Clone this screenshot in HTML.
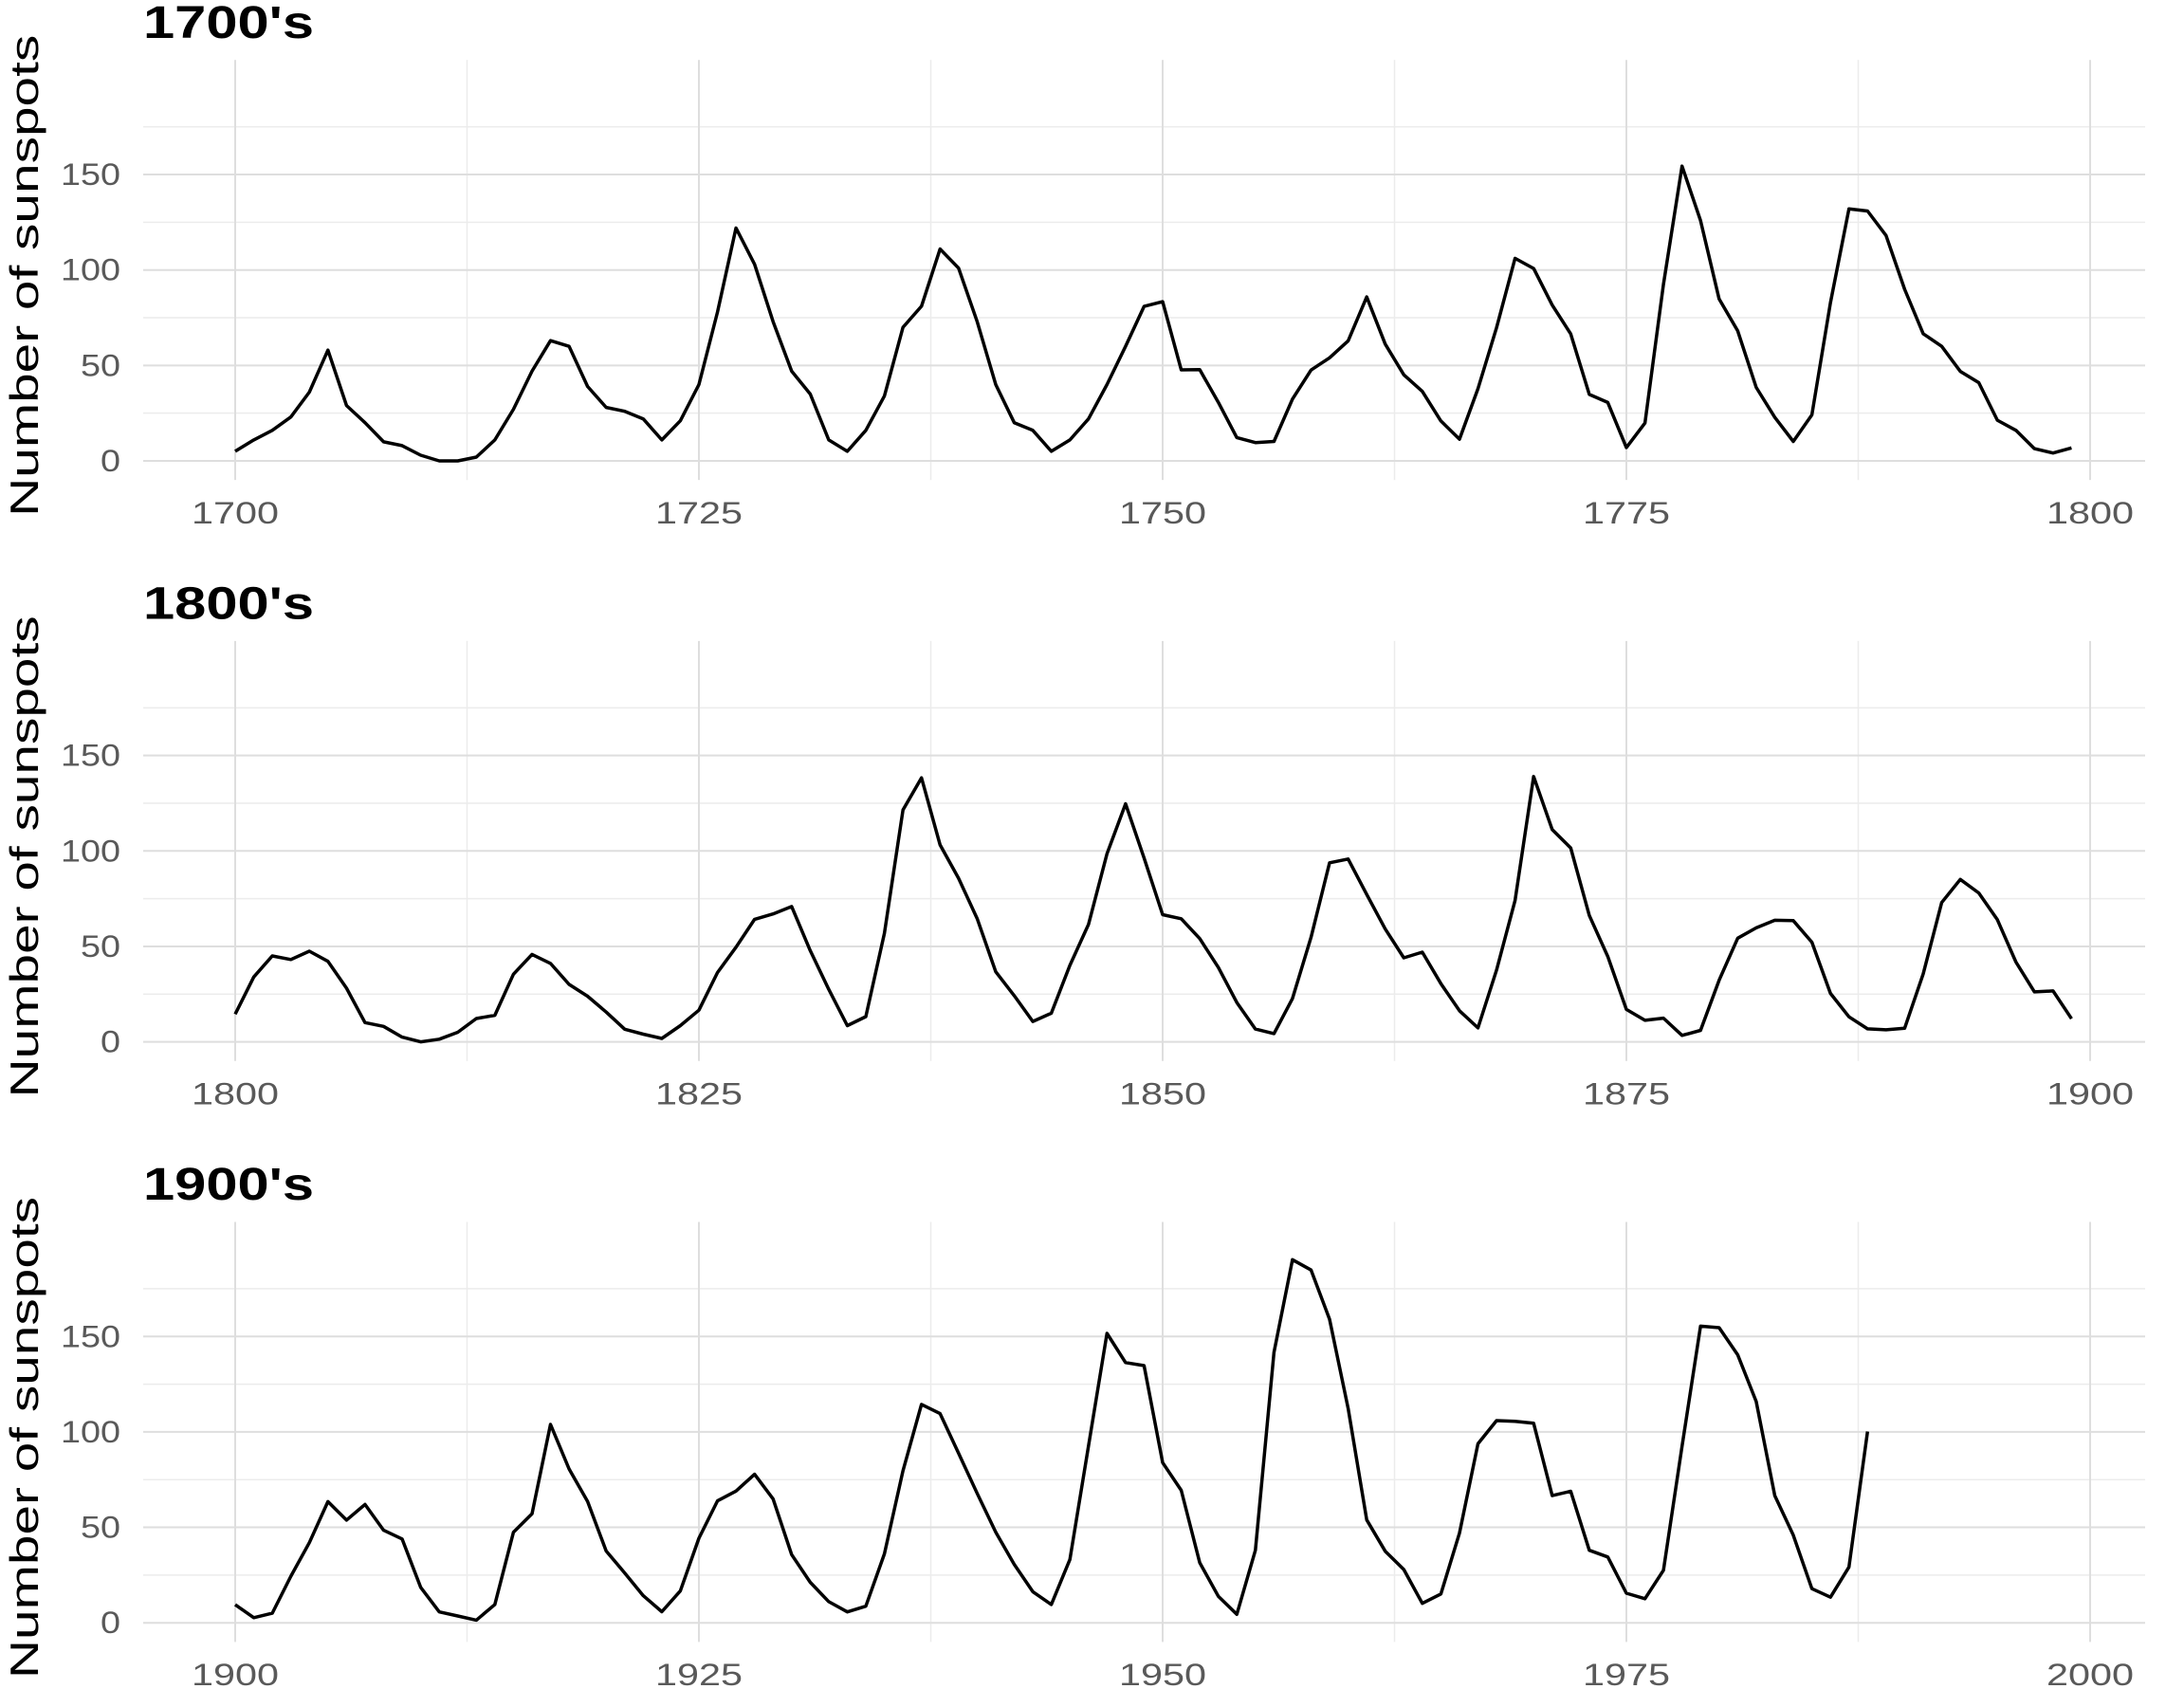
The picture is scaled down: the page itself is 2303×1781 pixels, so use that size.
<!DOCTYPE html>
<html><head><meta charset="utf-8"><style>
html,body{margin:0;padding:0;background:#fff;}
svg{display:block;font-family:"Liberation Sans",sans-serif;}
</style></head><body>
<svg id="chart" width="2303" height="1781" viewBox="0 0 2303 1781" xmlns="http://www.w3.org/2000/svg"></svg>
<script>
const decades = ["1700's","1800's","1900's"];
const startYears = [1700,1800,1900];
const xTicks = [0,25,50,75,100];
const yTicks = [0,50,100,150];
const s1700 = [5,11,16,23,36,58,29,20,10,8,3,0,0,2,11,27,47,63,60,39,28,26,22,11,21,40,78,122,103,73,47,35,11,5,16,34,70,81,111,101,73,40,20,16,5,11,22,40,60,80.9,83.4,47.7,47.8,30.7,12.2,9.6,10.2,32.4,47.6,54,62.9,85.9,61.2,45.1,36.4,20.9,11.4,37.8,69.8,106.1,100.8,81.6,66.5,34.8,30.6,7,19.8,92.5,154.4,125.9,84.8,68.1,38.5,22.8,10.2,24.1,82.9,132,130.9,118.1,89.9,66.6,60,46.9,41,21.3,16,6.4,4.1,6.8];
const s1800 = [14.5,34,45,43.1,47.5,42.2,28.1,10.1,8.1,2.5,0,1.4,5,12.2,13.9,35.4,45.8,41.1,30.1,23.9,15.6,6.6,4,1.8,8.5,16.6,36.3,49.6,64.2,67,70.9,47.8,27.5,8.5,13.2,56.9,121.5,138.3,103.2,85.7,64.6,36.7,24.2,10.7,15,40.1,61.5,98.5,124.7,96.3,66.6,64.5,54.1,39,20.6,6.7,4.3,22.7,54.8,93.8,95.8,77.2,59.1,44,47,30.5,16.3,7.3,37.6,74,139,111.2,101.6,66.2,44.7,17,11.3,12.4,3.4,6,32.3,54.3,59.7,63.7,63.5,52.2,25.4,13.1,6.8,6.3,7.1,35.6,73,85.1,78,64,41.8,26.2,26.7,12.1];
const s1900 = [9.5,2.7,5,24.4,42,63.5,53.8,62,48.5,43.9,18.6,5.7,3.6,1.4,9.6,47.4,57.1,103.9,80.6,63.6,37.6,26.1,14.2,5.8,16.7,44.3,63.9,69,77.8,64.9,35.7,21.2,11.1,5.7,8.7,36.1,79.7,114.4,109.6,88.8,67.8,47.5,30.6,16.3,9.6,33.2,92.6,151.6,136.3,134.7,83.9,69.4,31.5,13.9,4.4,38,141.7,190.2,184.8,159,112.3,53.9,37.5,27.9,10.2,15.1,47,93.8,105.9,105.5,104.5,66.6,68.9,38,34.5,15.5,12.6,27.5,92.5,155.4,154.6,140.4,115.9,66.6,45.9,17.9,13.4,29.2,100.2];
const series = [s1700,s1800,s1900];

const NS="http://www.w3.org/2000/svg";
const svg=document.getElementById('chart');
function mk(tag,attrs,parent){const e=document.createElementNS(NS,tag);for(const k in attrs)e.setAttribute(k,attrs[k]);(parent||svg).appendChild(e);return e;}
const panelH=612.6;
const X0=248, XPER=19.56, plotL=151, plotR=2262;
for(let p=0;p<3;p++){
  const off=p*panelH;
  const xs=v=>X0+v*XPER;
  const ys=v=>486+off-v*2.013;
  const g=mk('g',{});
  
  
  const top=ys(210), bot=ys(-10);
  for(let v=25;v<=175;v+=50){const l=mk('line',{x1:plotL,x2:plotR,y1:ys(v),y2:ys(v),stroke:'#ececec','stroke-width':1.5},g);}
  for(let v=12.5;v<=112.5;v+=25){const l=mk('line',{x1:xs(v),x2:xs(v),y1:top,y2:bot,stroke:'#ececec','stroke-width':1.5},g);}
  yTicks.forEach(v=>{
    const l=mk('line',{x1:plotL,x2:plotR,y1:ys(v),y2:ys(v),stroke:'#dedede','stroke-width':2},g);
    
    const s=String(v);
    const t=mk('text',{x:127,y:ys(v)+11,'text-anchor':'end','font-size':32,fill:'#595959',textLength:s.length*21,lengthAdjust:'spacingAndGlyphs'},g);t.textContent=s;
    
  });
  xTicks.forEach(v=>{
    const l=mk('line',{x1:xs(v),x2:xs(v),y1:top,y2:bot,stroke:'#dedede','stroke-width':2},g);
    
    const t=mk('text',{x:xs(v),y:ys(0)+66,'text-anchor':'middle','font-size':32,fill:'#595959',textLength:92,lengthAdjust:'spacingAndGlyphs'},g);t.textContent=startYears[p]+v;
    
  });
  const d=series[p].map((v,i)=>(i?'L':'M')+xs(i).toFixed(1)+','+ys(v).toFixed(1)).join('');
  const path=mk('path',{d:d,fill:'none',stroke:'#000','stroke-width':3.5,'stroke-linejoin':'round'},g);
  
  const tt=mk('text',{x:151,y:40+off,'font-size':48,'font-weight':'bold',fill:'#000',textLength:180,lengthAdjust:'spacingAndGlyphs'},g);tt.textContent=decades[p];
  
  const cy=ys(97);
  const yt=mk('text',{x:0,y:0,transform:`translate(40,${cy}) rotate(-90)`,'text-anchor':'middle','font-size':42,fill:'#000',textLength:508,lengthAdjust:'spacingAndGlyphs'},g);yt.textContent='Number of sunspots';
  
}
</script>
</body></html>
